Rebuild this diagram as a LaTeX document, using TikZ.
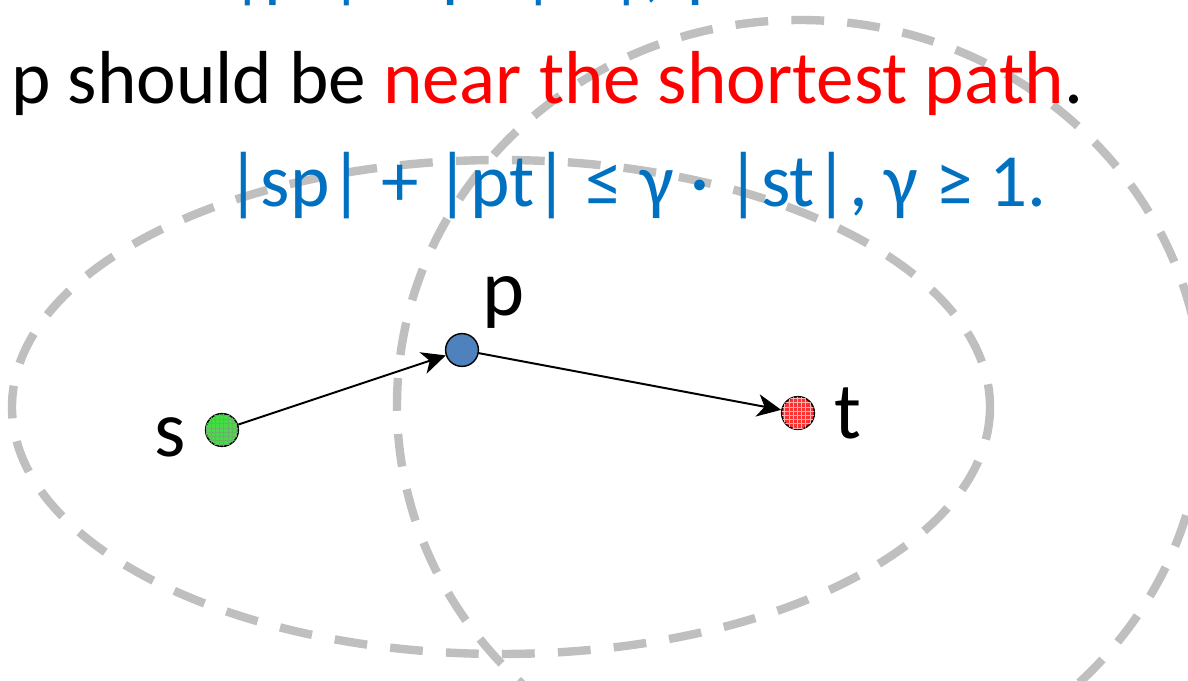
\documentclass[tikz,border=0pt]{standalone}
\usepackage{fontspec}
\setmainfont{Carlito}
\usepackage{tikz}
\usetikzlibrary{arrows.meta, positioning, patterns}
\definecolor{textblue}{HTML}{0070C0}
\definecolor{textred}{HTML}{FF0000}
\definecolor{zonegray}{HTML}{BFBFBF}
\definecolor{srcgreen}{HTML}{44DD44}
\definecolor{midblue}{HTML}{4F81BD}
\definecolor{dstred}{HTML}{FF3030}

\begin{document}
\begin{tikzpicture}[
    x=0.025cm, y=-0.025cm,
    zone/.style={draw=zonegray, line width=0.21cm, dash pattern=on 0.82cm off 0.58cm},
    vertex/.style={circle, draw=black, line width=1pt, minimum size=0.82cm, inner sep=0pt},
    hatched/.style={postaction={pattern=grid, pattern color=#1}},
    lbl/.style={inner sep=0pt, font=\fontsize{57}{60}\selectfont},
    textline/.style={inner sep=0pt, anchor=base west, font=\fontsize{53.4}{56}\selectfont},
    arrow/.style={-{Stealth[length=17pt, width=16pt, inset=5pt]}, line width=1.4pt},
]
\useasboundingbox (0,0) rectangle (1188,681);
\clip (0,0) rectangle (1188,681);

\draw[zone] (501,407) ellipse [x radius=489, y radius=247];
\draw[zone] (800,405) ellipse [x radius=403, y radius=385];

\node[textline, textblue] (prev) at (230,-6) {|pt| ≤ γ · |st|, γ ≥ 1.};
\node[textline] (goal) at (11,104) {p should be \textcolor{textred}{near the shortest path}.};
\node[textline, textblue] (cond) at (226,207) {|sp| + |pt| ≤ γ · |st|, γ ≥ 1.};

\node[vertex, fill=srcgreen, hatched=green!50!black!60] (s) at (222,430) {};
\node[vertex, fill=midblue] (p) at (462,350) {};
\node[vertex, fill=dstred, hatched=red!30] (t) at (798,413) {};

\node[lbl, left=0.475cm of s, yshift=-0.175cm] (slabel) {s};
\node[lbl, above right=0.225cm and 0.2cm of p] (plabel) {p};
\node[lbl, right=0.475cm of t] (tlabel) {t};

\draw[arrow] (s) -- (p);
\draw[arrow] (p) -- (t);

\end{tikzpicture}
\end{document}
